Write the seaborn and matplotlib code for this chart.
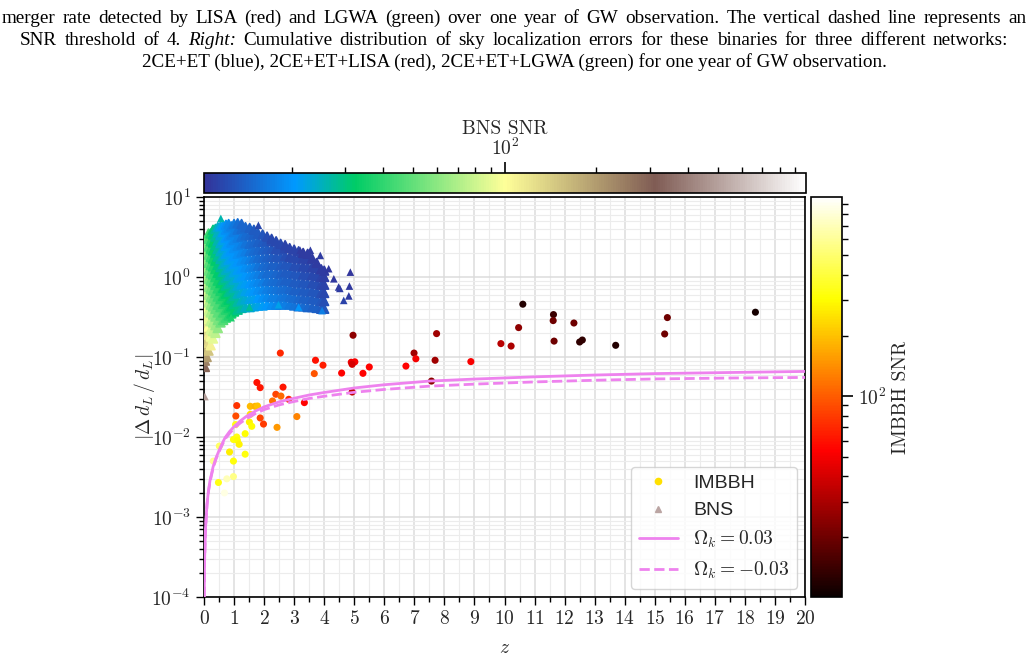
import numpy as np
import pandas as pd
import seaborn as sns
import matplotlib
matplotlib.use('Agg')
import matplotlib.pyplot as plt
from matplotlib.colors import LogNorm
from matplotlib.ticker import MultipleLocator, LogLocator, NullFormatter
from matplotlib.lines import Line2D
from matplotlib.cm import ScalarMappable

### data
# IMBBH sources: redshift, |Delta d_L / d_L|, SNR
imbbh_z = [2.54, 3.71, 3.96, 3.67, 4.58, 4.90, 5.02, 4.93, 4.93, 1.76, 1.87, 2.63, 2.39, 2.56,
           2.28, 2.82, 3.34, 1.09, 1.54, 1.70, 1.78, 1.06, 1.87, 1.98, 3.09, 2.43, 1.54, 1.51,
           1.59, 1.05, 1.37, 1.09, 0.98, 1.11, 1.17, 0.51, 0.85, 1.37, 0.98, 0.31, 0.98, 0.48,
           0.76, 0.68,
           4.96, 5.29, 5.50, 6.72, 6.99, 7.05, 7.74, 7.69, 7.57, 8.88, 9.88, 10.22, 10.47, 10.61,
           11.63, 11.62, 11.65, 12.31, 12.50, 12.59, 13.70, 15.42, 15.33, 18.35]
imbbh_err = [0.112, 0.091, 0.079, 0.062, 0.063, 0.086, 0.087, 0.081, 0.0365, 0.048, 0.0414, 0.042,
             0.0342, 0.0325, 0.0282, 0.0296, 0.0269, 0.0247, 0.0242, 0.0242, 0.0244, 0.0183, 0.0173,
             0.0145, 0.018, 0.0132, 0.0192, 0.0154, 0.0136, 0.0143, 0.011, 0.010, 0.0093, 0.0091,
             0.0081, 0.0077, 0.0065, 0.0061, 0.0050, 0.0050, 0.0032, 0.0027, 0.0030, 0.0020,
             0.187, 0.0625, 0.075, 0.077, 0.112, 0.095, 0.196, 0.091, 0.050, 0.0876, 0.147, 0.137,
             0.233, 0.457, 0.339, 0.285, 0.158, 0.266, 0.154, 0.163, 0.140, 0.311, 0.194, 0.363]
imbbh_snr = [70, 60, 65, 95, 55, 48, 52, 40, 35, 60, 62, 62, 85, 110, 115, 70, 55, 75, 190, 180,
             200, 90, 85, 80, 130, 150, 250, 280, 300, 330, 300, 330, 320, 300, 280, 480, 270, 320,
             320, 600, 550, 330, 700, 850,
             25, 55, 55, 55, 28, 50, 28, 28, 25, 52, 33, 30, 25, 12, 14, 20, 20, 20, 13, 13, 12,
             20, 20, 11]

# BNS sources, read column by column in redshift
bns_col_z = [0.03, 0.09, 0.15, 0.22, 0.30, 0.38, 0.46, 0.55, 0.64, 0.73, 0.82, 0.91, 1.00, 1.12,
             1.25, 1.38, 1.52, 1.66, 1.80, 1.95, 2.10, 2.25, 2.40, 2.55, 2.70, 2.85, 3.00, 3.15,
             3.30, 3.45, 3.60, 3.75, 3.90, 4.00]
bns_col_err = [
    [0.075, 0.09, 0.11, 0.14, 0.18, 0.23, 0.29, 0.37, 0.47, 0.6, 0.76, 0.97, 1.25, 1.6, 2.05, 2.5],
    [0.1, 0.125, 0.16, 0.2, 0.25, 0.32, 0.4, 0.5, 0.63, 0.8, 1.0, 1.26, 1.6, 2.0, 2.5, 3.1],
    [0.12, 0.15, 0.19, 0.24, 0.3, 0.38, 0.48, 0.6, 0.75, 0.95, 1.2, 1.5, 1.9, 2.4, 3.0, 3.5],
    [0.14, 0.18, 0.22, 0.28, 0.36, 0.45, 0.56, 0.71, 0.9, 1.12, 1.41, 1.78, 2.24, 2.8, 3.5],
    [0.17, 0.21, 0.27, 0.34, 0.43, 0.54, 0.68, 0.86, 1.08, 1.36, 1.7, 2.15, 2.7, 3.4, 3.9],
    [0.2, 0.25, 0.32, 0.4, 0.5, 0.63, 0.8, 1.0, 1.26, 1.6, 2.0, 2.5, 3.2, 4.0],
    [0.23, 0.29, 0.36, 0.45, 0.57, 0.72, 0.9, 1.13, 1.42, 1.8, 2.25, 2.85, 3.6, 4.2],
    [0.27, 0.33, 0.42, 0.53, 0.67, 0.84, 1.06, 1.33, 1.68, 2.1, 2.65, 3.35, 4.3],
    [0.29, 0.36, 0.46, 0.58, 0.73, 0.92, 1.16, 1.46, 1.84, 2.3, 2.9, 3.65, 4.4],
    [0.31, 0.39, 0.49, 0.62, 0.78, 0.98, 1.23, 1.55, 1.95, 2.45, 3.1, 3.9, 4.5],
    [0.33, 0.41, 0.52, 0.65, 0.82, 1.03, 1.3, 1.63, 2.05, 2.6, 3.25, 4.1, 4.6],
    [0.35, 0.43, 0.54, 0.68, 0.86, 1.08, 1.36, 1.7, 2.15, 2.7, 3.4, 4.3],
    [0.37, 0.46, 0.58, 0.73, 0.92, 1.15, 1.45, 1.83, 2.3, 2.9, 3.65, 4.6],
    [0.39, 0.49, 0.62, 0.78, 0.98, 1.23, 1.55, 1.95, 2.45, 3.1, 3.9, 4.7],
    [0.41, 0.51, 0.64, 0.81, 1.02, 1.28, 1.61, 2.03, 2.55, 3.2, 4.0, 4.6],
    [0.42, 0.53, 0.67, 0.84, 1.06, 1.33, 1.68, 2.1, 2.65, 3.35, 4.2],
    [0.42, 0.53, 0.66, 0.83, 1.05, 1.32, 1.66, 2.1, 2.6, 3.3, 4.1],
    [0.43, 0.54, 0.68, 0.86, 1.08, 1.36, 1.71, 2.15, 2.7, 3.4, 3.9],
    [0.44, 0.55, 0.7, 0.88, 1.1, 1.39, 1.75, 2.2, 2.75, 3.5],
    [0.44, 0.56, 0.7, 0.88, 1.1, 1.38, 1.73, 2.2, 2.75, 3.4],
    [0.45, 0.57, 0.72, 0.9, 1.13, 1.42, 1.79, 2.25, 2.85, 3.2],
    [0.45, 0.56, 0.71, 0.89, 1.12, 1.41, 1.78, 2.24, 2.8, 3.0],
    [0.45, 0.57, 0.72, 0.9, 1.13, 1.42, 1.79, 2.25, 2.8],
    [0.45, 0.56, 0.7, 0.88, 1.1, 1.39, 1.75, 2.2, 2.6],
    [0.46, 0.58, 0.73, 0.92, 1.16, 1.46, 1.84, 2.3, 2.5],
    [0.45, 0.56, 0.71, 0.89, 1.12, 1.41, 1.78, 2.3],
    [0.44, 0.55, 0.69, 0.87, 1.1, 1.38, 1.74, 2.2],
    [0.43, 0.54, 0.68, 0.85, 1.07, 1.35, 1.7, 2.1],
    [0.43, 0.54, 0.68, 0.86, 1.08, 1.36, 1.71, 2.0],
    [0.42, 0.53, 0.66, 0.83, 1.05, 1.32, 1.66, 1.95],
    [0.42, 0.53, 0.67, 0.84, 1.06, 1.33, 1.7],
    [0.41, 0.52, 0.65, 0.82, 1.03, 1.3, 1.5],
    [0.4, 0.5, 0.63, 0.8, 1.0, 1.25],
    [0.4, 0.5, 0.63, 0.8, 1.0, 1.2],
]
bns_col_snr = [
    [290, 240, 200, 175, 160, 145, 135, 125, 115, 108, 102, 96, 92, 88, 85, 82],
    [200, 170, 150, 135, 120, 110, 100, 92, 85, 78, 72, 68, 64, 61, 58, 56],
    [150, 130, 115, 100, 90, 80, 72, 66, 60, 55, 52, 49, 47, 45, 44, 43],
    [110, 95, 85, 76, 68, 62, 56, 52, 48, 45, 42, 40, 38, 37, 36],
    [90, 78, 68, 60, 54, 50, 46, 43, 40, 37, 35, 33, 32, 31, 30],
    [75, 65, 57, 51, 47, 43, 40, 37, 34, 32, 30, 29, 28, 27],
    [62, 55, 49, 45, 41, 38, 35, 32, 30, 28, 27, 26, 25, 24],
    [52, 47, 43, 39, 36, 33, 30, 28, 26, 25, 24, 23, 22],
    [46, 42, 38, 35, 32, 29, 27, 25, 24, 23, 22, 21, 20],
    [42, 38, 35, 32, 29, 27, 25, 23.5, 22, 21, 20, 19.5, 19],
    [38, 35, 32, 29, 27, 25, 23.5, 22, 21, 20, 19, 18.5, 18],
    [35, 32, 29.5, 27.5, 25.5, 24, 22.5, 21, 20, 19, 18, 17.5],
    [32, 29.5, 27.5, 25.5, 24, 22.5, 21, 20, 19, 18, 17, 16.5],
    [29, 27, 25, 23.5, 22, 21, 20, 19, 18, 17, 16, 15.5],
    [27, 25, 23.5, 22, 21, 20, 19, 18, 17, 16, 15, 14.5],
    [25, 23.5, 22, 21, 20, 19, 18, 17, 16, 15, 14.5],
    [24, 22.5, 21, 20, 19, 18, 17, 16, 15, 14.5, 14],
    [23, 21.5, 20, 19, 18, 17, 16, 15, 14.5, 14, 13.5],
    [22, 20.5, 19, 18, 17, 16, 15, 14.5, 14, 13.5],
    [21, 19.5, 18, 17, 16, 15, 14.5, 14, 13.5, 13],
    [20, 18.5, 17, 16, 15, 14.5, 14, 13.5, 13, 12.5],
    [19, 17.5, 16.5, 15.5, 15, 14, 13.5, 13, 12.5, 12],
    [18, 17, 16, 15, 14.5, 14, 13, 12.5, 12],
    [17.5, 16.5, 15.5, 14.5, 14, 13.5, 13, 12.5, 12],
    [17, 16, 15, 14, 13.5, 13, 12.5, 12, 11.5],
    [16.5, 15.5, 14.5, 14, 13.5, 13, 12, 11.5],
    [16, 15, 14, 13.5, 13, 12.5, 12, 11.5],
    [15.5, 14.5, 14, 13.5, 13, 12.5, 12, 11.5],
    [15, 14, 13.5, 13, 12.5, 12, 11.5, 11],
    [14.5, 14, 13.5, 13, 12.5, 12, 11.5, 11],
    [14, 13.5, 13, 12.5, 12, 11.5, 11],
    [14, 13.5, 13, 12.5, 12, 11.5, 11],
    [13.5, 13, 12.5, 12, 11.5, 11],
    [13, 12.5, 12, 11.5, 11.2, 11],
]
# isolated BNS triangles around the cloud
bns_out_z = [0.03, 0.56, 1.81, 3.20, 3.54, 3.87, 4.15, 4.32, 4.48, 4.52, 4.87, 4.84, 4.82, 4.65, 0.90, 1.51, 2.48, 3.15, 3.93]
bns_out_err = [0.032, 5.4, 4.43, 2.16, 2.16, 1.86, 1.27, 0.95, 0.75, 0.72, 1.15, 0.77, 0.58, 0.51, 0.31, 0.42, 0.45, 0.42, 0.38]
bns_out_snr = [480, 26, 12, 11, 11, 11, 10.8, 10.8, 11, 11, 10.6, 10.8, 11, 11.5, 36, 28, 22, 20, 17]

# Omega_k curves
line_z = [0.007, 0.02, 0.05, 0.1, 0.15, 0.2, 0.3, 0.4, 0.55, 0.7, 0.85, 1.0, 1.2, 1.4, 1.7, 2.0,
          2.5, 3.0, 3.5, 4.0, 5.0, 6.0, 7.5, 9.0, 11.0, 13.0, 15.0, 17.5, 20.0]
ok_pos = [1.0e-4, 2.9e-4, 7.2e-4, 1.45e-3, 2.15e-3, 2.85e-3, 4.2e-3, 5.5e-3, 7.5e-3, 0.0098,
          0.0117, 0.0135, 0.0158, 0.018, 0.021, 0.0238, 0.0275, 0.0305, 0.0335, 0.036, 0.041,
          0.045, 0.05, 0.053, 0.0565, 0.0595, 0.062, 0.064, 0.066]
ok_neg = [1.0e-4, 2.85e-4, 7.0e-4, 1.4e-3, 2.1e-3, 2.75e-3, 4.05e-3, 5.3e-3, 7.2e-3, 0.0094,
          0.0111, 0.0128, 0.0149, 0.0168, 0.0195, 0.022, 0.0252, 0.0278, 0.0303, 0.0323, 0.0362,
          0.0393, 0.0432, 0.0458, 0.0488, 0.0512, 0.0532, 0.0546, 0.0555]

caption = [
    "merger rate detected by LISA (red) and LGWA (green) over one year of GW observation. The vertical dashed line represents an",
    "SNR threshold of 4. |Right:| Cumulative distribution of sky localization errors for these binaries for three different networks:",
    "2CE+ET (blue), 2CE+ET+LISA (red), 2CE+ET+LGWA (green) for one year of GW observation.",
]

### tables
bns_df = pd.DataFrame({
    'z': [z for z, col in zip(bns_col_z, bns_col_err) for _ in col],
    'err': [e for col in bns_col_err for e in col],
    'snr': [s for col in bns_col_snr for s in col],
})
bns_out_df = pd.DataFrame({'z': bns_out_z, 'err': bns_out_err, 'snr': bns_out_snr})
imbbh_df = pd.DataFrame({'z': imbbh_z, 'err': imbbh_err, 'snr': imbbh_snr})

### style
sns.set_theme(style='ticks')
plt.rcParams['font.family'] = 'serif'
plt.rcParams['font.serif'] = ['cmr10', 'DejaVu Serif']
plt.rcParams['mathtext.fontset'] = 'cm'
plt.rcParams['axes.formatter.use_mathtext'] = True
plt.rcParams['axes.unicode_minus'] = False

W, H = 1028, 660
fig = plt.figure(figsize=(W / 100, H / 100), dpi=100)
fig.patch.set_facecolor('white')

ax = fig.add_axes([204 / W, 1 - 597 / H, 601 / W, 400 / H])
cax_top = fig.add_axes([204 / W, 1 - 193 / H, 602 / W, 20 / H])
cax_right = fig.add_axes([811 / W, 1 - 597 / H, 31 / W, 400 / H])

bns_norm = LogNorm(10.3, 975)
imbbh_norm = LogNorm(10.1, 973)

# dense BNS cloud, then the scattered ones
sns.scatterplot(data=bns_df, x='z', y='err', hue='snr', hue_norm=bns_norm, palette='terrain',
                marker='^', s=38, linewidth=1.3, edgecolor='face', legend=False, ax=ax, zorder=3)
sns.scatterplot(data=bns_out_df, x='z', y='err', hue='snr', hue_norm=bns_norm, palette='terrain',
                marker='^', s=30, linewidth=0, legend=False, ax=ax, zorder=3)
sns.scatterplot(data=imbbh_df, x='z', y='err', hue='snr', hue_norm=imbbh_norm, palette='hot',
                marker='o', s=26, linewidth=0, legend=False, ax=ax, zorder=3)
sns.lineplot(x=line_z, y=ok_pos, color='violet', lw=2, ax=ax, zorder=4)
sns.lineplot(x=line_z, y=ok_neg, color='violet', lw=2, ls='--', ax=ax, zorder=4)

ax.set_yscale('log')
ax.set_xlim(0, 20)
ax.set_ylim(1e-4, 1e1)
ax.xaxis.set_major_locator(MultipleLocator(1))
ax.xaxis.set_minor_locator(MultipleLocator(0.5))
ax.yaxis.set_major_locator(LogLocator(base=10, numticks=10))
ax.yaxis.set_minor_locator(LogLocator(base=10, subs=np.arange(2, 10), numticks=20))
ax.yaxis.set_minor_formatter(NullFormatter())
ax.grid(which='major', color='#dcdcdc', lw=1.1)
ax.grid(which='minor', color='#ececec', lw=0.8)
ax.set_axisbelow(True)
ax.tick_params(which='both', direction='out', labelsize=14, color='black', width=1)
ax.tick_params(which='major', length=6)
ax.tick_params(which='minor', length=3.5)
for sp in ax.spines.values():
    sp.set_color('black')
    sp.set_linewidth(1.2)

ax.set_xlabel(r'$z$', fontsize=14, labelpad=8)
ax.set_ylabel(r'$|\Delta\, d_L\,/\,d_L|$', fontsize=14)
ax.yaxis.set_label_coords(-0.079, 0.5)

handles = [
    Line2D([], [], marker='o', ls='none', color='#ffe000', markersize=4.5),
    Line2D([], [], marker='^', ls='none', color='#bba5a3', markersize=4.5),
    Line2D([], [], color='violet', lw=2),
    Line2D([], [], color='violet', lw=2, ls='--'),
]
labels = ['IMBBH', 'BNS', r'$\Omega_k = 0.03$', r'$\Omega_k = -0.03$']
leg = ax.legend(handles, labels, loc='lower right', prop={'family': 'Liberation Sans', 'size': 14},
                framealpha=0.8, fancybox=True, borderaxespad=0.4, handlelength=2.0)
leg.get_frame().set_edgecolor('#cccccc')

# colorbars
cb_top = fig.colorbar(ScalarMappable(norm=bns_norm, cmap='terrain'), cax=cax_top, orientation='horizontal')
cax_top.xaxis.set_ticks_position('top')
cax_top.xaxis.set_label_position('top')
cax_top.xaxis.set_minor_locator(LogLocator(base=10, subs=np.arange(2, 10), numticks=20))
cax_top.xaxis.set_minor_formatter(NullFormatter())
cax_top.tick_params(which='both', direction='out', labelsize=14, color='black')
cax_top.tick_params(which='major', length=8, width=1.2, pad=2)
cax_top.tick_params(which='minor', length=4.5, width=1)
cb_top.set_label('BNS SNR', fontsize=14, labelpad=3)
cb_top.outline.set_linewidth(1.2)
cb_top.outline.set_edgecolor('black')

cb_right = fig.colorbar(ScalarMappable(norm=imbbh_norm, cmap='hot'), cax=cax_right)
cax_right.yaxis.set_minor_locator(LogLocator(base=10, subs=np.arange(2, 10), numticks=20))
cax_right.yaxis.set_minor_formatter(NullFormatter())
cax_right.tick_params(which='both', direction='out', labelsize=14, color='black')
cax_right.tick_params(which='major', length=8, width=1.2)
cax_right.tick_params(which='minor', length=4.5, width=1)
cb_right.set_label('IMBBH SNR', fontsize=14, labelpad=4)
cb_right.outline.set_linewidth(1.2)
cb_right.outline.set_edgecolor('black')

### caption lines (paper text above the figure)
r = fig.canvas.get_renderer()
cap_font = dict(family='Liberation Serif', va='baseline', color='black')

probe = fig.text(0, 0, caption[2], fontsize=12, **cap_font)
cap_size = 1.05 * 12 * 710 / probe.get_window_extent(r).width
probe.remove()


def justified(line, y_px, left, right):
    words = line.split(' ')
    texts = []
    for w in words:
        style = 'normal'
        if w.startswith('|') and w.endswith('|'):
            w, style = w.strip('|'), 'italic'
        texts.append(fig.text(0, 1 - y_px / H, w, fontsize=cap_size, fontstyle=style, **cap_font))
    widths = [t.get_window_extent(r).width for t in texts]
    gap = (right - left - sum(widths)) / (len(words) - 1)
    x = left
    for t, w in zip(texts, widths):
        t.set_x(x / W)
        x += w + gap


justified(caption[0], 23, 2, 1026)
justified(caption[1], 45, 20, 1008)
fig.text(0.5, 1 - 67 / H, caption[2], fontsize=cap_size, ha='center', **cap_font)

fig.savefig('out.png', dpi=100)
